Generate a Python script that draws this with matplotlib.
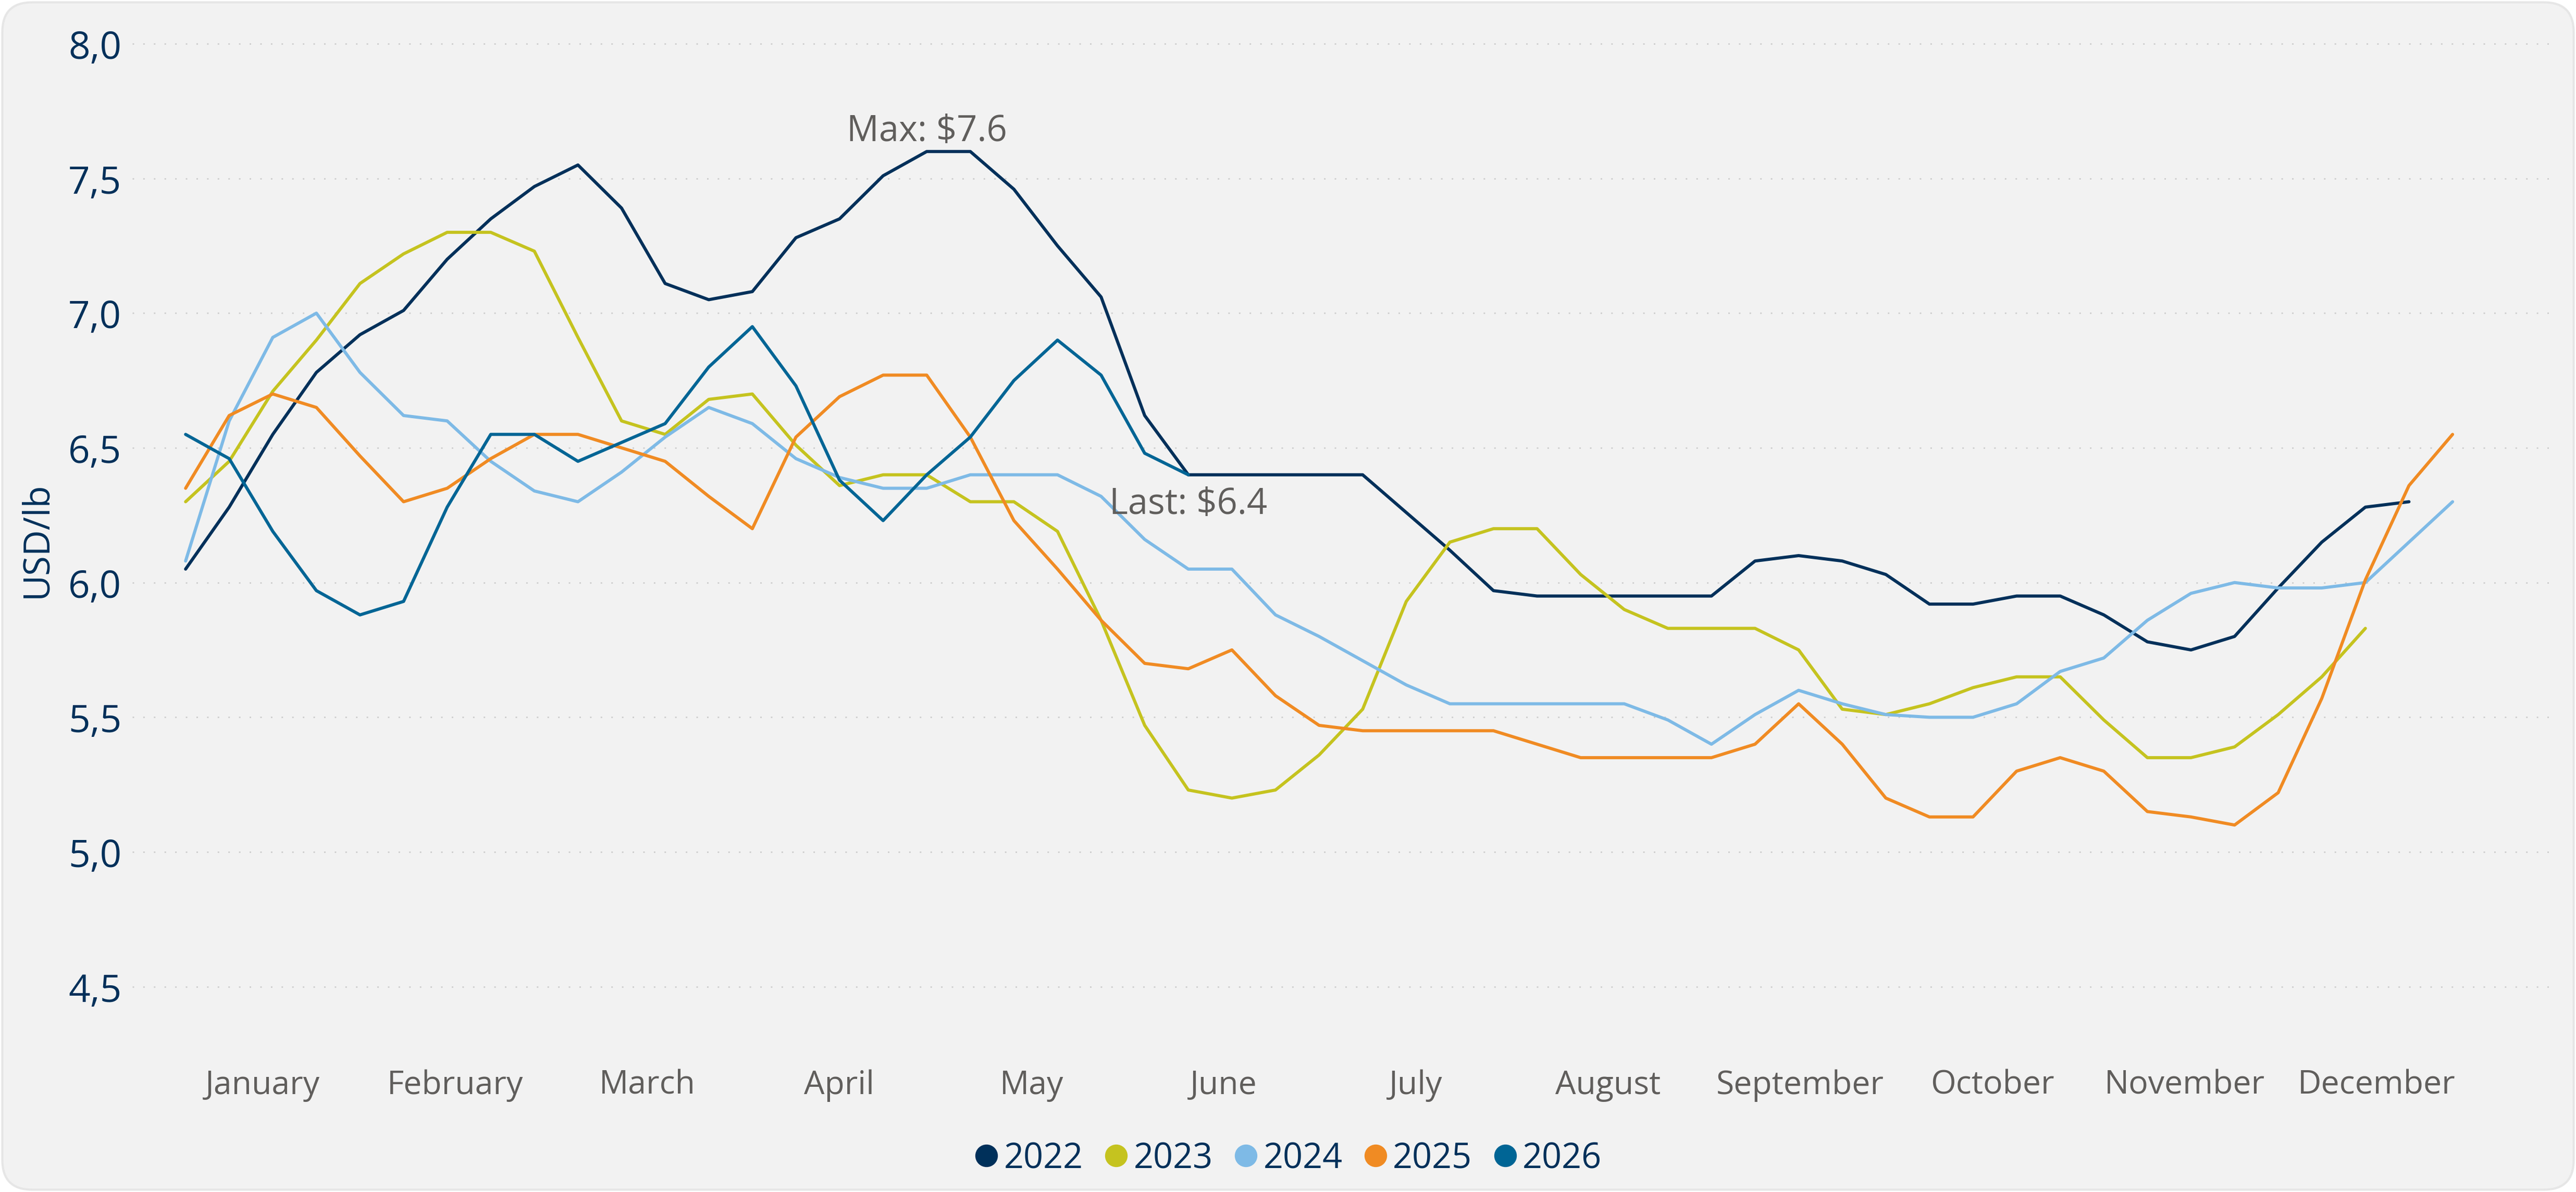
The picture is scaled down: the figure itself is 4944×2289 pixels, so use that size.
import matplotlib
matplotlib.use("Agg")
import matplotlib.pyplot as plt
from matplotlib.patches import FancyBboxPatch
from matplotlib.ticker import FuncFormatter
import numpy as np

plt.rcParams['font.family'] = ['Open Sans', 'DejaVu Sans']

# weekly prices, USD/lb (week 0 = first week of January)
years = ['2022', '2023', '2024', '2025', '2026']
p2022 = [6.05, 6.28, 6.55, 6.78, 6.92, 7.01, 7.20, 7.35, 7.47, 7.55, 7.39, 7.11, 7.05,
         7.08, 7.28, 7.35, 7.51, 7.60, 7.60, 7.46, 7.25, 7.06, 6.62, 6.40, 6.40, 6.40, 6.40,
         6.40, 6.26, 6.12, 5.97, 5.95, 5.95, 5.95, 5.95, 5.95, 6.08, 6.10, 6.08, 6.03,
         5.92, 5.92, 5.95, 5.95, 5.88, 5.78, 5.75, 5.80, 5.98, 6.15, 6.28, 6.30]
p2023 = [6.30, 6.45, 6.71, 6.90, 7.11, 7.22, 7.30, 7.30, 7.23, 6.91, 6.60, 6.55, 6.68,
         6.70, 6.51, 6.36, 6.40, 6.40, 6.30, 6.30, 6.19, 5.86, 5.47, 5.23, 5.20, 5.23, 5.36,
         5.53, 5.93, 6.15, 6.20, 6.20, 6.03, 5.90, 5.83, 5.83, 5.83, 5.75, 5.53, 5.51,
         5.55, 5.61, 5.65, 5.65, 5.49, 5.35, 5.35, 5.39, 5.51, 5.65, 5.83]
p2024 = [6.08, 6.60, 6.91, 7.00, 6.78, 6.62, 6.60, 6.45, 6.34, 6.30, 6.41, 6.54, 6.65,
         6.59, 6.46, 6.39, 6.35, 6.35, 6.40, 6.40, 6.40, 6.32, 6.16, 6.05, 6.05, 5.88, 5.80,
         5.71, 5.62, 5.55, 5.55, 5.55, 5.55, 5.55, 5.49, 5.40, 5.51, 5.60, 5.55, 5.51,
         5.50, 5.50, 5.55, 5.67, 5.72, 5.86, 5.96, 6.00, 5.98, 5.98, 6.00, 6.15, 6.30]
p2025 = [6.35, 6.62, 6.70, 6.65, 6.47, 6.30, 6.35, 6.46, 6.55, 6.55, 6.50, 6.45, 6.32,
         6.20, 6.54, 6.69, 6.77, 6.77, 6.54, 6.23, 6.05, 5.86, 5.70, 5.68, 5.75, 5.58, 5.47,
         5.45, 5.45, 5.45, 5.45, 5.40, 5.35, 5.35, 5.35, 5.35, 5.40, 5.55, 5.40, 5.20,
         5.13, 5.13, 5.30, 5.35, 5.30, 5.15, 5.13, 5.10, 5.22, 5.57, 6.01, 6.36, 6.55]
p2026 = [6.55, 6.46, 6.19, 5.97, 5.88, 5.93, 6.28, 6.55, 6.55, 6.45, 6.52, 6.59, 6.80,
         6.95, 6.73, 6.38, 6.23, 6.40, 6.54, 6.75, 6.90, 6.77, 6.48, 6.40]
series = [p2022, p2023, p2024, p2025, p2026]
colors = ['#00305A', '#C5C31F', '#7EBAE6', '#F08B23', '#006595']

months = ['January', 'February', 'March', 'April', 'May', 'June', 'July',
          'August', 'September', 'October', 'November', 'December']
month_pos = 1.77 + 4.408 * np.arange(12)

navy = '#00305A'
grey = '#605E5C'

fig = plt.figure(figsize=(16.48, 7.6333), dpi=300)
fig.patch.set_facecolor('white')
bg = FancyBboxPatch((0.015, 0.015), 16.45, 7.60, boxstyle="round,pad=0,rounding_size=0.19",
                    transform=fig.dpi_scale_trans, facecolor='#F2F2F2', edgecolor='#E6E6E6',
                    linewidth=1.0, zorder=0)
fig.add_artist(bg)

ax = fig.add_axes([0.0514, 0.127, 0.9391, 0.8404])
ax.set_facecolor('none')

for yr, vals, c in zip(years, series, colors):
    ax.plot(np.arange(len(vals)), vals, color=c, lw=1.45, label=yr,
            solid_joinstyle='round', solid_capstyle='round')

ax.set_xlim(-1.22, 54.27)
ax.set_ylim(4.3, 8.02)
ax.set_yticks([4.5, 5.0, 5.5, 6.0, 6.5, 7.0, 7.5, 8.0])
ax.yaxis.set_major_formatter(FuncFormatter(lambda v, p: f"{v:.1f}".replace('.', ',')))
ax.set_xticks(month_pos)
ax.set_xticklabels(months)
ax.tick_params(axis='x', length=0, pad=13, labelsize=15, labelcolor=grey)
ax.tick_params(axis='y', length=0, pad=5, labelsize=17.5, labelcolor=navy)
ax.grid(axis='y', color='#CFCFCF', lw=0.7, linestyle=(0, (1, 6)))
for s in ax.spines.values():
    s.set_visible(False)
ax.set_ylabel('USD/lb', color=navy, fontsize=16.5, labelpad=6)

# annotations
imax = int(np.argmax(p2022))
ax.annotate(f"Max: ${p2022[imax]:.1f}", (imax, p2022[imax]), xytext=(0, 5),
            textcoords='offset points', ha='center', va='baseline',
            fontsize=16.5, color=grey)
ilast = len(p2026) - 1
ax.annotate(f"Last: ${p2026[ilast]:.1f}", (ilast, p2026[ilast]), xytext=(0, -5),
            textcoords='offset points', ha='center', va='top',
            fontsize=16.5, color=grey)

handles = [plt.Line2D([], [], marker='o', ls='none', color=c, markersize=9.4) for c in colors]
leg = fig.legend(handles, years, loc='center', bbox_to_anchor=(0.499, 0.028), ncol=5,
                 frameon=False, fontsize=16, handletextpad=0.0, columnspacing=0.45,
                 handlelength=1.0)
for t in leg.get_texts():
    t.set_color(navy)

fig.savefig('out.png', dpi=300, facecolor=fig.get_facecolor())
